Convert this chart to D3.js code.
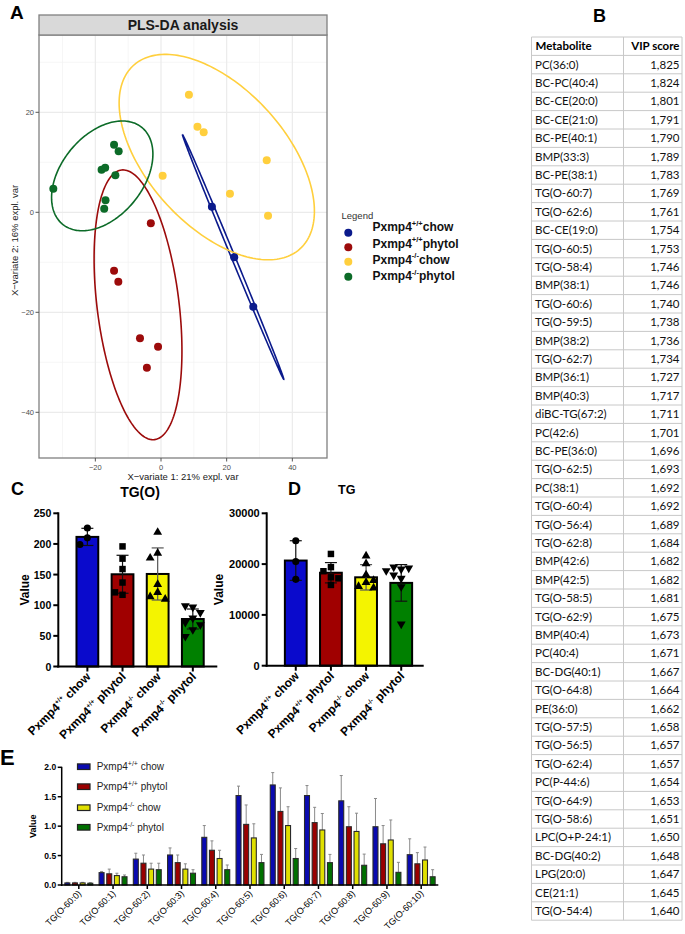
<!DOCTYPE html>
<html><head><meta charset="utf-8">
<script src="https://cdn.jsdelivr.net/npm/d3@7"></script>
<style>body{margin:0;background:#fff}svg{display:block}</style>
</head><body>
<svg id="fig" width="685" height="934"></svg>
<script>
// ================= DATA =================
const groupGeno = ["+/+", "+/+", "-/-", "-/-"];
const groupDiet = ["chow", "phytol", "chow", "phytol"];

// Panel A – PLS-DA scores
const plsBlueX = [15.5, 22.3, 28.1];
const plsBlueY = [1.1, -9.0, -18.9];
const plsRedX = [-3.1, -14.3, -13.0, -6.4, -0.9, -4.3];
const plsRedY = [-2.2, -11.7, -13.9, -25.2, -26.9, -31.1];
const plsYellowX = [8.5, 11.1, 13.0, 0.5, 32.2, 21.0, 32.6];
const plsYellowY = [23.5, 17.1, 16.0, 7.3, 10.4, 3.7, -0.7];
const plsGreenX = [-32.8, -14.3, -12.9, -18.1, -17.0, -13.9, -16.9, -17.3];
const plsGreenY = [4.7, 13.5, 12.2, 8.5, 8.9, 7.4, 2.4, 0.7];
const plsXTicks = [-20, 0, 20, 40];
const plsYTicks = [-40, -20, 0, 20];
const plsXMinor = [-30, -10, 10, 30];
const plsYMinor = [-30, -10, 10, 30];

// Panel B – VIP table
const vipNames = ["PC(36:0)","BC-PC(40:4)","BC-CE(20:0)","BC-CE(21:0)","BC-PE(40:1)","BMP(33:3)","BC-PE(38:1)","TG(O-60:7)","TG(O-62:6)","BC-CE(19:0)","TG(O-60:5)","TG(O-58:4)","BMP(38:1)","TG(O-60:6)","TG(O-59:5)","BMP(38:2)","TG(O-62:7)","BMP(36:1)","BMP(40:3)","diBC-TG(67:2)","PC(42:6)","BC-PE(36:0)","TG(O-62:5)","PC(38:1)","TG(O-60:4)","TG(O-56:4)","TG(O-62:8)","BMP(42:6)","BMP(42:5)","TG(O-58:5)","TG(O-62:9)","BMP(40:4)","PC(40:4)","BC-DG(40:1)","TG(O-64:8)","PE(36:0)","TG(O-57:5)","TG(O-56:5)","TG(O-62:4)","PC(P-44:6)","TG(O-64:9)","TG(O-58:6)","LPC(O+P-24:1)","BC-DG(40:2)","LPG(20:0)","CE(21:1)","TG(O-54:4)"];
const vipScores = ["1,825","1,824","1,801","1,791","1,790","1,789","1,783","1,769","1,761","1,754","1,753","1,746","1,746","1,740","1,738","1,736","1,734","1,727","1,717","1,711","1,701","1,696","1,693","1,692","1,692","1,689","1,684","1,682","1,682","1,681","1,675","1,673","1,671","1,667","1,664","1,662","1,658","1,657","1,657","1,654","1,653","1,651","1,650","1,648","1,647","1,645","1,640"];

// Panel C – TG(O)
const tgoMean = [211.5, 150.5, 151, 77.5];
const tgoSD = [14, 31, 42.5, 16.3];
const tgoPoints = [[226, 210, 199], [196, 176, 159, 137, 117, 121], [219, 185, 177, 134, 121, 114, 110], [97, 99, 88, 79, 72, 68, 60, 49]];
const tgoTicks = [0, 50, 100, 150, 200, 250];

// Panel D – TG
const tgMean = [20700, 18300, 17400, 16300];
const tgSD = [3900, 2000, 2500, 3600];
const tgPoints = [[24600, 20500, 17000], [22000, 19400, 18600, 15900, 17400, 17200], [21600, 20100, 17900, 16400, 15600, 16800, 15300], [19000, 19400, 19200, 18700, 17850, 17200, 15550, 8200]];
const tgTicks = [0, 10000, 20000, 30000];

// Panel E – TG(O-60:n) species
const eSpecies = ["TG(O-60:0)","TG(O-60:1)","TG(O-60:2)","TG(O-60:3)","TG(O-60:4)","TG(O-60:5)","TG(O-60:6)","TG(O-60:7)","TG(O-60:8)","TG(O-60:9)","TG(O-60:10)"];
const eBlue   = [0.035, 0.21, 0.44, 0.51, 0.81, 1.52, 1.70, 1.52, 1.43, 0.99, 0.515];
const eBlueSD = [0.01, 0.02, 0.10, 0.12, 0.20, 0.16, 0.21, 0.17, 0.43, 0.48, 0.27];
const eRed    = [0.035, 0.19, 0.37, 0.38, 0.59, 1.03, 1.25, 1.06, 0.99, 0.70, 0.36];
const eRedSD  = [0.01, 0.08, 0.14, 0.13, 0.16, 0.33, 0.40, 0.26, 0.34, 0.31, 0.19];
const eYellow   = [0.035, 0.16, 0.27, 0.27, 0.45, 0.80, 1.01, 0.935, 0.91, 0.765, 0.425];
const eYellowSD = [0.01, 0.04, 0.10, 0.09, 0.14, 0.24, 0.32, 0.28, 0.31, 0.34, 0.22];
const eGreen   = [0.03, 0.14, 0.26, 0.20, 0.26, 0.38, 0.45, 0.38, 0.335, 0.215, 0.14];
const eGreenSD = [0.01, 0.03, 0.11, 0.06, 0.08, 0.14, 0.17, 0.14, 0.19, 0.17, 0.12];
const eTicks = [0, 0.5, 1.0, 1.5, 2.0];

// ================= STYLE =================
const FONT = "'Liberation Sans', Arial, Helvetica, sans-serif";
const plsColors = ["#0b1a8c", "#9c0b0b", "#ffcf3d", "#0c6b28"];
const barColors = ["#0a0acc", "#a00000", "#f4f400", "#008000"];
const eColors = ["#0a0ab0", "#9a0000", "#e0e000", "#007000"];

const svg = d3.select("#fig").style("font-family", FONT);
svg.append("rect").attr("width", 685).attr("height", 934).attr("fill", "#fff");

function panelLetter(t, x, y, size) {
  svg.append("text").attr("x", x).attr("y", y).attr("font-size", size)
    .attr("font-weight", "bold").attr("fill", "#000").text(t);
}
function genoLabel(sel, geno, diet, size, supSize, space) {
  sel.append("tspan").text("Pxmp4");
  sel.append("tspan").attr("font-size", supSize).attr("dy", -size * 0.42).text(geno);
  sel.append("tspan").attr("dy", size * 0.42).text((space ? " " : "") + diet);
}

// ================= PANEL A =================
(function () {
  const L = 39, R = 327, T = 35, B = 458, ST = 15;
  const x = d3.scaleLinear().domain([-37.16, 50.56]).range([L, R]);
  const y = d3.scaleLinear().domain([35.46, -49.14]).range([T, B]);
  const g = svg.append("g");
  g.append("defs").append("clipPath").attr("id", "clipA")
    .append("rect").attr("x", L).attr("y", T).attr("width", R - L).attr("height", B - T);
  g.selectAll(".mx").data(plsXMinor).join("line").attr("x1", d => x(d)).attr("x2", d => x(d))
    .attr("y1", T).attr("y2", B).attr("stroke", "#f2f2f2").attr("stroke-width", 0.7);
  g.selectAll(".my").data(plsYMinor).join("line").attr("y1", d => y(d)).attr("y2", d => y(d))
    .attr("x1", L).attr("x2", R).attr("stroke", "#f2f2f2").attr("stroke-width", 0.7);
  g.selectAll(".Mx").data(plsXTicks).join("line").attr("x1", d => x(d)).attr("x2", d => x(d))
    .attr("y1", T).attr("y2", B).attr("stroke", "#ebebeb").attr("stroke-width", 1.2);
  g.selectAll(".My").data(plsYTicks).join("line").attr("y1", d => y(d)).attr("y2", d => y(d))
    .attr("x1", L).attr("x2", R).attr("stroke", "#ebebeb").attr("stroke-width", 1.2);

  const sets = [[plsBlueX, plsBlueY], [plsRedX, plsRedY], [plsYellowX, plsYellowY], [plsGreenX, plsGreenY]];
  function ellipse(xs, ys, level) {
    const n = xs.length, mx = d3.mean(xs), my = d3.mean(ys);
    let sxx = 0, syy = 0, sxy = 0;
    for (let i = 0; i < n; i++) { const dx = xs[i] - mx, dy = ys[i] - my; sxx += dx * dx; syy += dy * dy; sxy += dx * dy; }
    sxx /= (n - 1); syy /= (n - 1); sxy /= (n - 1);
    const tr = sxx + syy, det = sxx * syy - sxy * sxy;
    const disc = Math.sqrt(Math.max(tr * tr / 4 - det, 0));
    const l1 = tr / 2 + disc, l2 = Math.max(tr / 2 - disc, 0);
    const ang = Math.abs(sxy) < 1e-12 ? (sxx >= syy ? 0 : Math.PI / 2) : Math.atan2(l1 - sxx, sxy);
    const t = Math.sqrt(-2 * Math.log(1 - level));
    const a = t * Math.sqrt(l1), b = t * Math.sqrt(l2);
    return d3.range(0, 201).map(k => {
      const th = 2 * Math.PI * k / 200, u = a * Math.cos(th), v = b * Math.sin(th);
      return [mx + u * Math.cos(ang) - v * Math.sin(ang), my + u * Math.sin(ang) + v * Math.cos(ang)];
    });
  }
  const line = d3.line().x(d => x(d[0])).y(d => y(d[1]));
  const gc = g.append("g").attr("clip-path", "url(#clipA)");
  sets.forEach((s, i) => {
    gc.append("path").attr("d", line(ellipse(s[0], s[1], 0.95))).attr("fill", "none")
      .attr("stroke", plsColors[i]).attr("stroke-width", 1.6);
  });
  sets.forEach((s, i) => {
    gc.selectAll(null).data(d3.range(s[0].length)).join("circle")
      .attr("cx", j => x(s[0][j])).attr("cy", j => y(s[1][j])).attr("r", 4)
      .attr("fill", plsColors[i]);
  });
  g.append("rect").attr("x", L).attr("y", T).attr("width", R - L).attr("height", B - T)
    .attr("fill", "none").attr("stroke", "#808080").attr("stroke-width", 1.3);
  g.append("rect").attr("x", L).attr("y", ST).attr("width", R - L).attr("height", T - ST)
    .attr("fill", "#d9d9d9").attr("stroke", "#808080").attr("stroke-width", 1.3);
  g.append("text").attr("x", (L + R) / 2).attr("y", ST + 15).attr("text-anchor", "middle")
    .attr("font-size", 14).attr("font-weight", "bold").attr("fill", "#1a1a1a").text("PLS-DA analysis");
  g.selectAll(".tx").data(plsXTicks).join("line").attr("x1", d => x(d)).attr("x2", d => x(d))
    .attr("y1", B).attr("y2", B + 3.5).attr("stroke", "#555");
  g.selectAll(".ty").data(plsYTicks).join("line").attr("y1", d => y(d)).attr("y2", d => y(d))
    .attr("x1", L - 3.5).attr("x2", L).attr("stroke", "#555");
  g.selectAll(".lx").data(plsXTicks).join("text").attr("x", d => x(d)).attr("y", B + 11.5)
    .attr("text-anchor", "middle").attr("font-size", 7.5).attr("fill", "#4d4d4d")
    .text(d => d3.format("")(d).replace("-", "\u2212"));
  g.selectAll(".ly").data(plsYTicks).join("text").attr("x", L - 5).attr("y", d => y(d) + 2.7)
    .attr("text-anchor", "end").attr("font-size", 7.5).attr("fill", "#4d4d4d")
    .text(d => d3.format("")(d).replace("-", "\u2212"));
  g.append("text").attr("x", (L + R) / 2).attr("y", B + 21.5).attr("text-anchor", "middle")
    .attr("font-size", 9.5).attr("fill", "#1a1a1a").text("X\u2212variate 1: 21% expl. var");
  g.append("text").attr("transform", `translate(18,${(T + B) / 2 - 6}) rotate(-90)`)
    .attr("text-anchor", "middle").attr("font-size", 9.5).attr("fill", "#1a1a1a")
    .text("X\u2212variate 2: 16% expl. var");
  g.append("text").attr("x", 341.5).attr("y", 219).attr("font-size", 9.5).attr("fill", "#333").text("Legend");
  const dotY = [232.7, 247.3, 261.7, 276.7], txtY = [231, 247.5, 263.5, 280];
  for (let i = 0; i < 4; i++) {
    g.append("circle").attr("cx", 348.3).attr("cy", dotY[i]).attr("r", 4).attr("fill", plsColors[i]);
    const t = g.append("text").attr("x", 372.5).attr("y", txtY[i]).attr("font-size", 12)
      .attr("font-weight", "bold").attr("fill", "#111");
    genoLabel(t, groupGeno[i], groupDiet[i], 12, 7.5, false);
  }
  panelLetter("A", 10, 18.5, 19);
})();

// ================= PANEL B (table) =================
(function () {
  const L = 531.5, M = 623.5, R = 682, T = 37, rh = 18.4;
  const g = svg.append("g");
  const rows = vipNames.length + 1;
  g.selectAll(".hl").data(d3.range(rows + 1)).join("line")
    .attr("x1", L).attr("x2", R).attr("y1", i => T + i * rh).attr("y2", i => T + i * rh)
    .attr("stroke", "#c8c8c8").attr("stroke-width", 1);
  [L, M, R].forEach(xv => g.append("line").attr("x1", xv).attr("x2", xv).attr("y1", T).attr("y2", T + rows * rh)
    .attr("stroke", "#c8c8c8").attr("stroke-width", 1));
  const tf = "Lato, 'Open Sans', sans-serif";
  g.append("text").attr("x", L + 4).attr("y", T + rh / 2 + 4).attr("font-family", tf).attr("font-size", 11.5)
    .attr("font-weight", "bold").text("Metabolite");
  g.append("text").attr("x", R - 2.5).attr("y", T + rh / 2 + 4).attr("font-family", tf).attr("font-size", 11.5)
    .attr("text-anchor", "end").attr("font-weight", "bold").text("VIP score");
  g.selectAll(".n").data(vipNames).join("text").attr("x", L + 3.5)
    .attr("y", (d, i) => T + (i + 1) * rh + rh / 2 + 4).attr("font-family", tf).attr("font-size", 11.5)
    .attr("fill", "#111").text(d => d);
  g.selectAll(".v").data(vipScores).join("text").attr("x", R - 2.5).attr("text-anchor", "end")
    .attr("y", (d, i) => T + (i + 1) * rh + rh / 2 + 4).attr("font-family", tf).attr("font-size", 11.5)
    .attr("fill", "#111").text(d => d);
  panelLetter("B", 593, 22, 18);
})();

// ================= PANELS C & D =================
const symbols = [d3.symbolCircle, d3.symbolSquare, d3.symbolTriangle, d3.symbolTriangle];
const symSize = [40, 42, 34, 34];
function barPanel(o) {
  const g = svg.append("g");
  const ax = o.axisX, y0 = o.y0, y1 = o.y1;
  const y = d3.scaleLinear().domain([0, o.ticks[o.ticks.length - 1]]).range([y0, y1]);
  const x = d3.scaleBand().domain(d3.range(4)).range([ax + 11.5, ax + 152.1]).paddingInner(0.38).paddingOuter(0.19);
  const bw = x.bandwidth();
  g.selectAll(".bar").data(o.means).join("rect")
    .attr("x", (d, i) => x(i)).attr("y", d => y(d)).attr("width", bw).attr("height", d => y0 - y(d))
    .attr("fill", (d, i) => barColors[i]).attr("stroke", "#000").attr("stroke-width", 2);
  o.means.forEach((m, i) => {
    const cx = x(i) + bw / 2, hi = y(m + o.sds[i]), lo = y(m - o.sds[i]);
    const col = i === 2 ? "#555" : "#111";
    g.append("line").attr("x1", cx).attr("x2", cx).attr("y1", hi).attr("y2", lo).attr("stroke", col).attr("stroke-width", 1.2);
    [hi, lo].forEach(v => g.append("line").attr("x1", cx - 6).attr("x2", cx + 6).attr("y1", v).attr("y2", v)
      .attr("stroke", col).attr("stroke-width", 1.2));
  });
  o.points.forEach((pts, i) => {
    const cx = x(i) + bw / 2, placed = [], s = 7.5;
    pts.forEach(v => {
      const py = y(v);
      const cands = [0, -s, s, -2 * s, 2 * s];
      let off = 0;
      for (const c of cands) {
        if (placed.every(p => Math.hypot(p[0] - c, p[1] - py) >= s)) { off = c; break; }
      }
      placed.push([off, py]);
      g.append("path").attr("d", d3.symbol().type(symbols[i]).size(symSize[i])())
        .attr("transform", `translate(${cx + off},${py})` + (i === 3 ? " rotate(180)" : ""))
        .attr("fill", "#000");
    });
  });
  g.append("line").attr("x1", ax).attr("x2", ax).attr("y1", y1 - 1).attr("y2", y0 + 1).attr("stroke", "#000").attr("stroke-width", 2);
  g.append("line").attr("x1", ax - 1).attr("x2", ax + o.axLen).attr("y1", y0).attr("y2", y0).attr("stroke", "#000").attr("stroke-width", 2);
  g.selectAll(".yt").data(o.ticks).join("line").attr("x1", ax - 5).attr("x2", ax).attr("y1", d => y(d)).attr("y2", d => y(d))
    .attr("stroke", "#000").attr("stroke-width", 2);
  g.selectAll(".yl").data(o.ticks).join("text").attr("x", ax - 7).attr("y", d => y(d) + 4)
    .attr("text-anchor", "end").attr("font-size", o.tickFont).attr("font-weight", "bold").text(d => d);
  g.selectAll(".xt").data(d3.range(4)).join("line").attr("x1", i => x(i) + bw / 2).attr("x2", i => x(i) + bw / 2)
    .attr("y1", y0).attr("y2", y0 + 5).attr("stroke", "#000").attr("stroke-width", 2);
  d3.range(4).forEach(i => {
    const t = g.append("text").attr("transform", `translate(${x(i) + bw / 2 + 4},${y0 + 11}) rotate(-45)`)
      .attr("text-anchor", "end").attr("font-size", 12).attr("font-weight", "bold");
    genoLabel(t, groupGeno[i], groupDiet[i], 12, 6.5, true);
  });
  g.append("text").attr("transform", `translate(${ax - o.valueOff},${(y0 + y1) / 2}) rotate(-90)`)
    .attr("text-anchor", "middle").attr("font-size", 12).attr("font-weight", "bold").text("Value");
  g.append("text").attr("x", o.titleX).attr("y", o.titleY).attr("text-anchor", "middle")
    .attr("font-size", o.titleSize).attr("font-weight", "bold").text(o.title);
}
barPanel({ axisX: 58.3, y0: 666.5, y1: 513.3, ticks: tgoTicks, means: tgoMean, sds: tgoSD, points: tgoPoints,
  axLen: 159, tickFont: 10.5, valueOff: 29, title: "TG(O)", titleX: 140, titleY: 497, titleSize: 14 });
barPanel({ axisX: 266.7, y0: 665.7, y1: 513.3, ticks: tgTicks, means: tgMean, sds: tgSD, points: tgPoints,
  axLen: 157, tickFont: 11, valueOff: 44, title: "TG", titleX: 346.7, titleY: 494, titleSize: 12.5 });
panelLetter("C", 11, 495, 18);
panelLetter("D", 288, 495, 18);

// ================= PANEL E =================
(function () {
  const g = svg.append("g");
  const ax = 61.7, x1 = 438.3, y0 = 885, yT = 767.3;
  const y = d3.scaleLinear().domain([0, 2]).range([y0, yT]);
  const x = d3.scaleBand().domain(eSpecies).range([ax, x1]).padding(0);
  const xi = d3.scaleBand().domain(d3.range(4)).range([0, x.bandwidth()]).paddingInner(0.35).paddingOuter(0.413);
  const means = [eBlue, eRed, eYellow, eGreen], sds = [eBlueSD, eRedSD, eYellowSD, eGreenSD];
  eSpecies.forEach((sp, j) => {
    for (let i = 0; i < 4; i++) {
      const bx = x(sp) + xi(i), bw = xi.bandwidth(), m = means[i][j], sd = sds[i][j];
      const cx = bx + bw / 2;
      g.append("line").attr("x1", cx).attr("x2", cx).attr("y1", y(m)).attr("y2", y(m + sd)).attr("stroke", "#8a8a8a").attr("stroke-width", 1);
      g.append("line").attr("x1", cx - 1.5).attr("x2", cx + 1.5).attr("y1", y(m + sd)).attr("y2", y(m + sd)).attr("stroke", "#8a8a8a").attr("stroke-width", 1);
      g.append("rect").attr("x", bx).attr("y", y(m)).attr("width", bw).attr("height", y0 - y(m))
        .attr("fill", eColors[i]).attr("stroke", "#2a2a2a").attr("stroke-width", 1.1);
    }
  });
  g.append("line").attr("x1", ax).attr("x2", ax).attr("y1", yT - 0.5).attr("y2", y0 + 1).attr("stroke", "#000").attr("stroke-width", 1.5);
  g.append("line").attr("x1", ax - 0.5).attr("x2", x1).attr("y1", y0).attr("y2", y0).attr("stroke", "#000").attr("stroke-width", 1.5);
  g.selectAll(".yt").data(eTicks).join("line").attr("x1", ax - 4).attr("x2", ax).attr("y1", d => y(d)).attr("y2", d => y(d))
    .attr("stroke", "#000").attr("stroke-width", 1.5);
  g.selectAll(".yl").data(eTicks).join("text").attr("x", ax - 5.5).attr("y", d => y(d) + 3)
    .attr("text-anchor", "end").attr("font-size", 8.5).attr("font-weight", "bold").text(d => d3.format(".1f")(d));
  g.selectAll(".xt").data(eSpecies).join("line").attr("x1", d => x(d) + x.bandwidth() / 2).attr("x2", d => x(d) + x.bandwidth() / 2)
    .attr("y1", y0).attr("y2", y0 + 4).attr("stroke", "#000").attr("stroke-width", 1.5);
  g.selectAll(".xl").data(eSpecies).join("text")
    .attr("transform", d => `translate(${x(d) + x.bandwidth() / 2 + 3},${y0 + 9}) rotate(-45)`)
    .attr("text-anchor", "end").attr("font-size", 9).attr("fill", "#000").text(d => d);
  g.append("text").attr("transform", `translate(36,${(y0 + yT) / 2}) rotate(-90)`)
    .attr("text-anchor", "middle").attr("font-size", 9).attr("font-weight", "bold").text("Value");
  const ly = [766.7, 786.7, 807.7, 827.3];
  for (let i = 0; i < 4; i++) {
    g.append("rect").attr("x", 77.5).attr("y", ly[i] - 2.8).attr("width", 12.5).attr("height", 5.6)
      .attr("fill", eColors[i]).attr("stroke", "#222").attr("stroke-width", 1.2);
    const t = g.append("text").attr("x", 96.7).attr("y", ly[i] + 3.5).attr("font-size", 10).attr("fill", "#222");
    genoLabel(t, groupGeno[i], groupDiet[i], 10, 7, true);
  }
  panelLetter("E", 0, 765, 22);
})();
</script>
</body></html>
